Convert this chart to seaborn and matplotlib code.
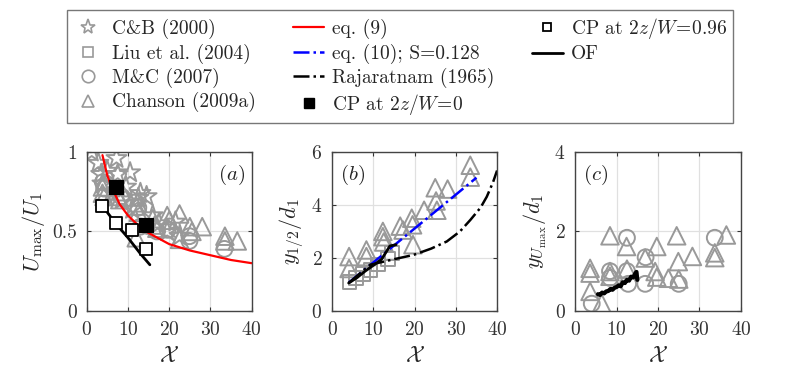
import numpy as np
import pandas as pd
import seaborn as sns
import matplotlib.pyplot as plt
from matplotlib.lines import Line2D

# --- datos ---
# panel (a): U_max / U_1
cb_x = [1.2, 2.8, 3.5, 5.0, 7.2, 7.5, 9.5, 10.5, 12.5, 13.0, 14.5, 16.0, 17.5, 19.5, 21.5, 22.5, 3.8, 6.0, 8.5, 11.0]
cb_y = [1.00, 0.93, 0.86, 0.88, 0.96, 0.86, 0.78, 0.87, 0.71, 0.74, 0.72, 0.60, 0.55, 0.50, 0.56, 0.47, 0.80, 0.75, 0.70, 0.64]
ch_a_x = [3.8, 3.8, 4.2, 7.5, 8.0, 8.5, 12.0, 12.5, 12.3, 16.5, 17.0, 19.5, 20.0, 22.5, 22.5, 25.0, 25.5, 28.0, 33.5, 33.5, 36.5, 12.0, 16.0]
ch_a_y = [0.78, 0.74, 0.72, 0.72, 0.70, 0.75, 0.66, 0.62, 0.68, 0.54, 0.52, 0.60, 0.57, 0.61, 0.45, 0.53, 0.50, 0.53, 0.47, 0.44, 0.44, 0.46, 0.58]
mc_a_x = [3.9, 4.2, 8.4, 12.5, 13.0, 17.0, 19.6, 24.9, 24.9, 33.4]
mc_a_y = [0.81, 0.77, 0.72, 0.65, 0.53, 0.50, 0.51, 0.47, 0.44, 0.39]
eq9_x = [3.8, 5, 6, 8, 10, 12, 15, 20, 25, 30, 35, 40]
eq9_y = [0.98, 0.85, 0.78, 0.67, 0.60, 0.55, 0.49, 0.42, 0.38, 0.35, 0.32, 0.30]
of_a_x = [4.4, 7, 10, 13, 15.3]
of_a_y = [0.64, 0.55, 0.46, 0.36, 0.29]
cp0_a_x = [7.1, 14.4]
cp0_a_y = [0.78, 0.54]
cp96_a_x = [3.7, 7.1, 10.9, 14.4]
cp96_a_y = [0.66, 0.55, 0.51, 0.39]

# panel (b): y_1/2 / d_1
ch_b_x = [4.1, 4.1, 8.3, 8.3, 12.3, 12.3, 12.5, 16.5, 17.2, 19.3, 19.5, 19.6, 22.3, 25.0, 25.2, 25.4, 28.0, 33.5, 33.5]
ch_b_y = [2.05, 1.60, 2.30, 2.05, 3.00, 2.80, 2.60, 3.20, 3.05, 3.50, 3.25, 2.50, 3.80, 4.65, 4.15, 3.80, 4.60, 5.50, 5.05]
liu_b_x = [4.2, 5.8, 7.5, 9.3, 11.2, 13.5, 14.5]
liu_b_y = [1.10, 1.25, 1.40, 1.55, 1.75, 1.95, 2.20]
eq10_x = [4, 10, 20, 35]
eq10_y = [1.06, 1.83, 3.11, 5.03]
raj_x = [4, 9.2, 15, 19.7, 24, 27.8, 31, 33.5, 36, 37.5, 39, 40]
raj_y = [1.05, 1.74, 1.95, 2.11, 2.35, 2.62, 3.0, 3.43, 3.9, 4.31, 4.85, 5.3]
of_b_x = [4, 6, 8, 10, 12, 13, 14, 15.5]
of_b_y = [1.05, 1.25, 1.50, 1.72, 1.95, 2.20, 2.45, 2.50]

# panel (c): y_Umax / d_1
ch_c_x = [8.4, 12.4, 19.7, 24.5, 36.5, 16.9, 24.9, 28.3, 33.7, 33.7, 3.6, 3.6, 8.4, 8.4, 12.5, 19.3, 19.7, 22.5, 25.0, 3.6, 6.4]
ch_c_y = [1.89, 1.62, 1.62, 1.89, 1.91, 1.33, 1.24, 1.37, 1.46, 1.34, 1.07, 0.95, 0.99, 0.87, 1.05, 0.99, 0.85, 0.82, 0.80, 0.49, 0.19]
mc_c_x = [12.5, 33.7, 17.0, 8.4, 12.5, 12.8, 16.9, 25.0, 4.0, 8.4]
mc_c_y = [1.84, 1.84, 1.35, 1.00, 1.00, 0.68, 0.68, 0.68, 0.18, 0.83]
of_c_x = [5.5, 6.0, 6.5, 7.0, 7.5, 8.0, 8.5, 9.0, 9.5, 10.0, 10.5, 11.0, 11.5, 12.0, 12.5, 13.0, 13.5, 14.0, 14.5, 14.8, 15.0]
of_c_y = [0.42, 0.40, 0.46, 0.44, 0.49, 0.50, 0.55, 0.53, 0.58, 0.60, 0.64, 0.62, 0.72, 0.70, 0.78, 0.76, 0.86, 0.84, 0.94, 0.98, 0.78]

sns.set_style("ticks")
plt.rcParams['font.family'] = ['cmr10', 'DejaVu Serif']
plt.rcParams['mathtext.fontset'] = 'cm'
plt.rcParams['axes.formatter.use_mathtext'] = True
plt.rcParams['axes.unicode_minus'] = False

GRIS = '#999999'
mk = dict(facecolor='none', edgecolor=GRIS, linewidth=1.4, legend=False)

fig = plt.figure(figsize=(7.89, 3.80), dpi=100)
ax_a = fig.add_axes([0.110, 0.182, 0.209, 0.418])
ax_b = fig.add_axes([0.421, 0.182, 0.209, 0.418])
ax_c = fig.add_axes([0.729, 0.182, 0.210, 0.418])


def linea(ax, x, y, **kw):
    sns.lineplot(x=x, y=y, ax=ax, sort=False, estimator=None, legend=False, **kw)


# (a)
sns.scatterplot(x=cb_x, y=cb_y, ax=ax_a, marker='*', s=230, **mk)
sns.scatterplot(x=mc_a_x, y=mc_a_y, ax=ax_a, marker='o', s=130, **mk)
sns.scatterplot(x=ch_a_x, y=ch_a_y, ax=ax_a, marker='^', s=160, **mk)
linea(ax_a, eq9_x, eq9_y, color='red', linewidth=1.6)
linea(ax_a, of_a_x, of_a_y, color='black', linewidth=2)
sns.scatterplot(x=cp96_a_x, y=cp96_a_y, ax=ax_a, marker='s', s=80, facecolor='white',
                edgecolor='black', linewidth=1.3, legend=False, zorder=5)
sns.scatterplot(x=cp0_a_x, y=cp0_a_y, ax=ax_a, marker='s', s=110, color='black',
                edgecolor='black', legend=False, zorder=5)
ax_a.set_ylim(0, 1)
ax_a.set_yticks([0, 0.5, 1])
ax_a.set_yticklabels(['0', '0.5', '1'])
ax_a.set_ylabel(r'$U_{\max}/U_1$', fontsize=16, labelpad=4)
ax_a.text(0.96, 0.93, r'$(a)$', transform=ax_a.transAxes, ha='right', va='top', fontsize=15)

# (b)
sns.scatterplot(x=liu_b_x, y=liu_b_y, ax=ax_b, marker='s', s=100, **mk)
sns.scatterplot(x=ch_b_x, y=ch_b_y, ax=ax_b, marker='^', s=160, **mk)
linea(ax_b, eq10_x, eq10_y, color='blue', linewidth=1.8, linestyle='-.')
linea(ax_b, raj_x, raj_y, color='black', linewidth=1.8, linestyle='-.')
linea(ax_b, of_b_x, of_b_y, color='black', linewidth=2)
ax_b.set_ylim(0, 6)
ax_b.set_yticks([0, 2, 4, 6])
ax_b.set_ylabel(r'$y_{1/2}/d_1$', fontsize=16, labelpad=4)
ax_b.text(0.05, 0.93, r'$(b)$', transform=ax_b.transAxes, ha='left', va='top', fontsize=15)

# (c)
sns.scatterplot(x=mc_c_x, y=mc_c_y, ax=ax_c, marker='o', s=130, **mk)
sns.scatterplot(x=ch_c_x, y=ch_c_y, ax=ax_c, marker='^', s=160, **mk)
linea(ax_c, of_c_x, of_c_y, color='black', linewidth=3)
ax_c.set_ylim(0, 4)
ax_c.set_yticks([0, 2, 4])
ax_c.set_ylabel(r'$y_{U_{\max}}/d_1$', fontsize=16, labelpad=4)
ax_c.text(0.05, 0.93, r'$(c)$', transform=ax_c.transAxes, ha='left', va='top', fontsize=15)

for ax in (ax_a, ax_b, ax_c):
    ax.set_xlim(0, 40)
    ax.set_xticks([0, 10, 20, 30, 40])
    ax.set_xlabel(r'$\mathcal{X}$', fontsize=16, labelpad=5)
    ax.grid(True, color='#e0e0e0', linewidth=0.9)
    ax.set_axisbelow(True)
    ax.tick_params(direction='in', top=True, right=True, labelsize=14,
                   length=3, color='#333333', labelcolor='#333333', pad=7)
    for s in ax.spines.values():
        s.set_color('#444444')
        s.set_linewidth(1.0)

# --- leyenda ---
vacio = Line2D([], [], ls='none')
h = [
    Line2D([], [], ls='none', marker='*', ms=11, mfc='none', mec=GRIS, mew=1.2),
    Line2D([], [], ls='none', marker='s', ms=7, mfc='none', mec=GRIS, mew=1.2),
    Line2D([], [], ls='none', marker='o', ms=9, mfc='none', mec=GRIS, mew=1.2),
    Line2D([], [], ls='none', marker='^', ms=9, mfc='none', mec=GRIS, mew=1.2),
    Line2D([], [], color='red', lw=1.6),
    Line2D([], [], color='blue', lw=1.8, ls='-.'),
    Line2D([], [], color='black', lw=1.8, ls='-.'),
    Line2D([], [], ls='none', marker='s', ms=7, color='black'),
    Line2D([], [], ls='none', marker='s', ms=6, mfc='white', mec='black', mew=1.3),
    Line2D([], [], color='black', lw=2),
    vacio, vacio,
]
etiquetas = ['C&B (2000)', 'Liu et al. (2004)', 'M&C (2007)', 'Chanson (2009a)',
             'eq. (9)', 'eq. (10); S=0.128', 'Rajaratnam (1965)', r'CP at $2z/W\!=\!0$',
             r'CP at $2z/W\!=\!0.96$', 'OF', '', '']
fig.legend(h, etiquetas, ncol=3, loc='lower left', bbox_to_anchor=(0.085, 0.676, 0.844, 0.288),
           mode='expand', fontsize=14, frameon=True, fancybox=False, edgecolor='#555555',
           handlelength=1.6, handletextpad=0.4, borderaxespad=0, labelspacing=0.22,
           borderpad=0.3, columnspacing=1.0)

fig.savefig('out.png', dpi=100)
